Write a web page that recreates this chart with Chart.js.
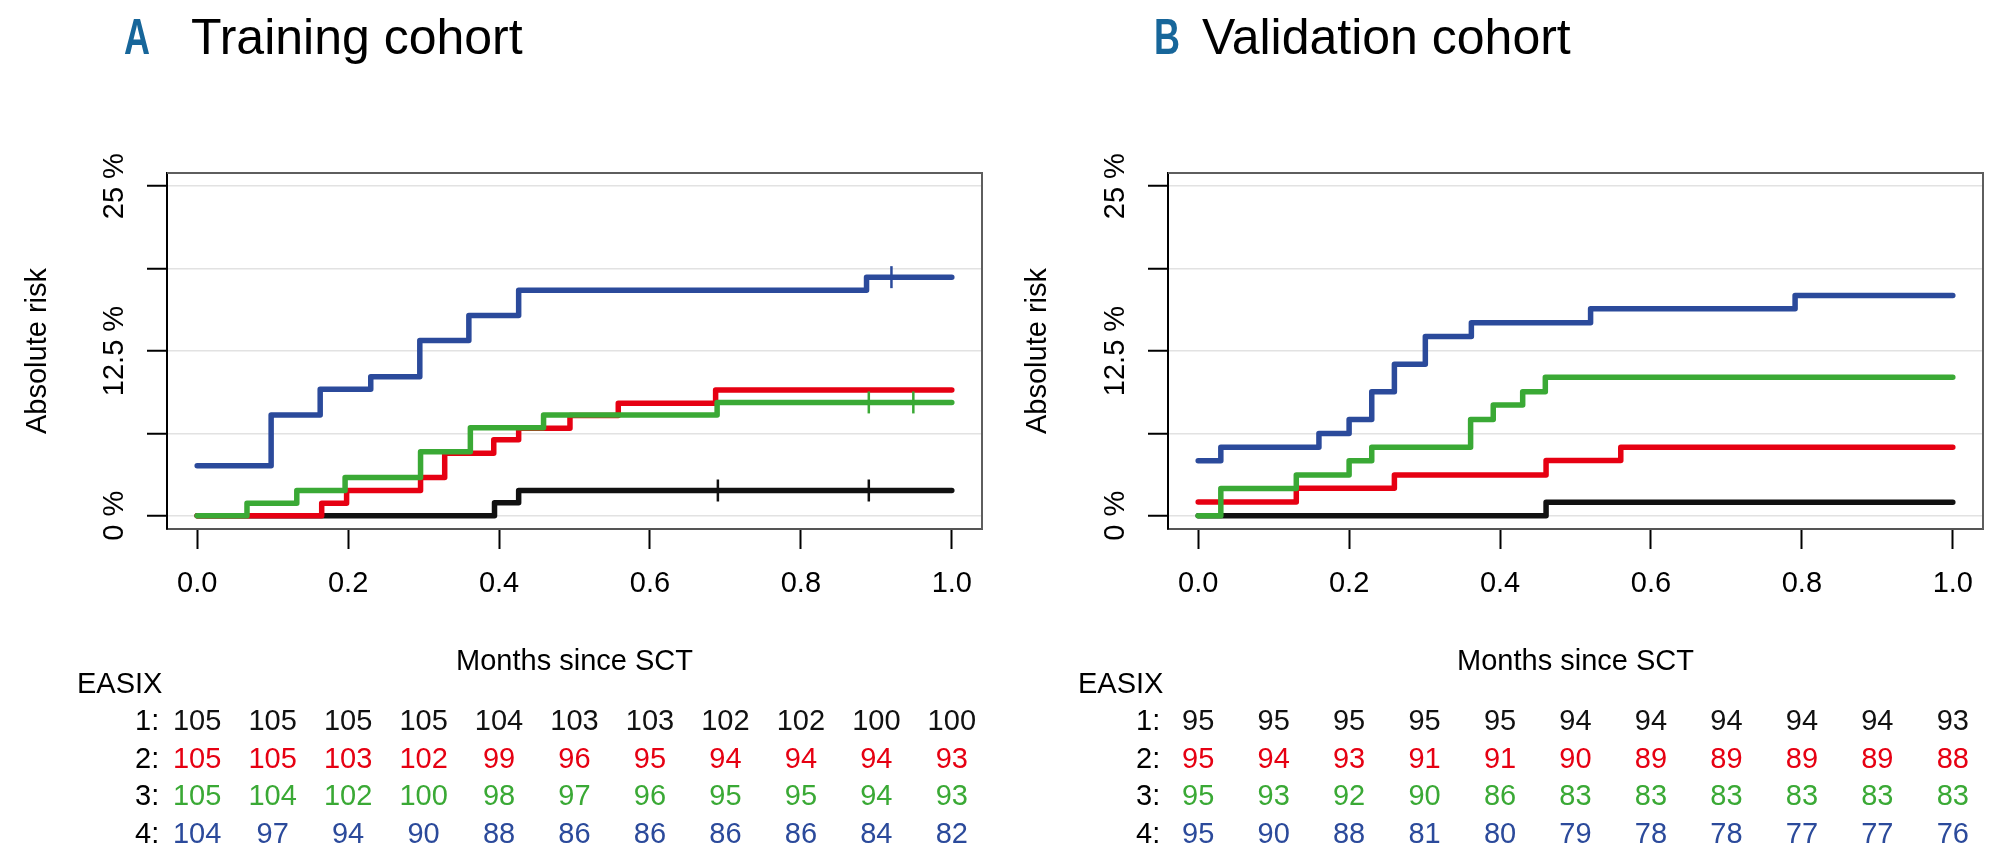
<!DOCTYPE html>
<html>
<head>
<meta charset="utf-8">
<script src="https://cdn.jsdelivr.net/npm/chart.js@4.4.1/dist/chart.umd.min.js"></script>
<style>
html,body{margin:0;padding:0;background:#fff;}
#wrap{position:relative;width:2000px;height:865px;overflow:hidden;background:#fff;}
#wrap canvas{position:absolute;top:0;}
</style>
</head>
<body>
<div id="wrap">
<canvas id="cA" width="1000" height="865" style="left:0px"></canvas>
<canvas id="cB" width="1000" height="865" style="left:1000px"></canvas>
</div>
<script>
// ---------------- data ----------------
const groupNames = ['1', '2', '3', '4'];
const groupColors = ['#111111', '#e60012', '#3aa935', '#2b4a9b'];

const xTicks = [0, 0.2, 0.4, 0.6, 0.8, 1.0];
const yTicks = [0, 6.25, 12.5, 18.75, 25];
const yLabelValues = [0, 12.5, 25];
const yTickLabels = ['0 %', '12.5 %', '25 %'];
const tableTimes = [0, 0.1, 0.2, 0.3, 0.4, 0.5, 0.6, 0.7, 0.8, 0.9, 1.0];

// Training cohort (panel A): step times (months) and cumulative risk (%)
const trainTime1 = [0, 0.394, 0.426, 1.0];
const trainRisk1 = [0, 1.0, 1.92, 1.92];
const trainTime2 = [0, 0.165, 0.198, 0.296, 0.328, 0.393, 0.426, 0.494, 0.558, 0.687, 1.0];
const trainRisk2 = [0, 0.96, 1.92, 2.9, 4.75, 5.76, 6.64, 7.6, 8.54, 9.55, 9.55];
const trainTime3 = [0, 0.066, 0.132, 0.196, 0.296, 0.362, 0.459, 0.689, 1.0];
const trainRisk3 = [0, 0.96, 1.92, 2.9, 4.85, 6.68, 7.65, 8.6, 8.6];
const trainTime4 = [0, 0.098, 0.163, 0.23, 0.295, 0.36, 0.426, 0.887, 1.0];
const trainRisk4 = [3.8, 7.65, 9.6, 10.55, 13.3, 15.2, 17.1, 18.1, 18.1];
const trainCensor1 = [0.69, 0.89];
const trainCensor2 = [];
const trainCensor3 = [0.89, 0.949];
const trainCensor4 = [0.92];

// Validation cohort (panel B)
const valTime1 = [0, 0.461, 1.0];
const valRisk1 = [0, 1.03, 1.03];
const valTime2 = [0, 0.13, 0.26, 0.461, 0.56, 1.0];
const valRisk2 = [1.05, 2.1, 3.1, 4.2, 5.2, 5.2];
const valTime3 = [0, 0.03, 0.13, 0.2, 0.23, 0.361, 0.391, 0.43, 0.46, 1.0];
const valRisk3 = [0, 2.07, 3.1, 4.17, 5.2, 7.3, 8.4, 9.4, 10.5, 10.5];
const valTime4 = [0, 0.03, 0.16, 0.2, 0.23, 0.26, 0.301, 0.362, 0.52, 0.791, 1.0];
const valRisk4 = [4.17, 5.2, 6.25, 7.3, 9.4, 11.5, 13.6, 14.65, 15.7, 16.7, 16.7];
const valCensor1 = [];
const valCensor2 = [];
const valCensor3 = [];
const valCensor4 = [];

// Numbers at risk
const trainAtRisk1 = [105, 105, 105, 105, 104, 103, 103, 102, 102, 100, 100];
const trainAtRisk2 = [105, 105, 103, 102, 99, 96, 95, 94, 94, 94, 93];
const trainAtRisk3 = [105, 104, 102, 100, 98, 97, 96, 95, 95, 94, 93];
const trainAtRisk4 = [104, 97, 94, 90, 88, 86, 86, 86, 86, 84, 82];
const valAtRisk1 = [95, 95, 95, 95, 95, 94, 94, 94, 94, 94, 93];
const valAtRisk2 = [95, 94, 93, 91, 91, 90, 89, 89, 89, 89, 88];
const valAtRisk3 = [95, 93, 92, 90, 86, 83, 83, 83, 83, 83, 83];
const valAtRisk4 = [95, 90, 88, 81, 80, 79, 78, 78, 77, 77, 76];

// ---------------- drawing ----------------
const FONT = "'Liberation Sans', Arial, Helvetica, sans-serif";

const panels = [
  {
    canvas: 'cA', letter: 'A', title: 'Training cohort', letterX: 124, titleX: 191,
    axisWidth: 167, padRight: 18,
    times: [trainTime1, trainTime2, trainTime3, trainTime4],
    risks: [trainRisk1, trainRisk2, trainRisk3, trainRisk4],
    censor: [trainCensor1, trainCensor2, trainCensor3, trainCensor4],
    atRisk: [trainAtRisk1, trainAtRisk2, trainAtRisk3, trainAtRisk4]
  },
  {
    canvas: 'cB', letter: 'B', title: 'Validation cohort', letterX: 154, titleX: 202,
    axisWidth: 168, padRight: 17,
    times: [valTime1, valTime2, valTime3, valTime4],
    risks: [valRisk1, valRisk2, valRisk3, valRisk4],
    censor: [valCensor1, valCensor2, valCensor3, valCensor4],
    atRisk: [valAtRisk1, valAtRisk2, valAtRisk3, valAtRisk4]
  }
];

function riskLevelAt(times, risks, t) {
  let v = risks[0];
  for (let i = 0; i < times.length; i++) { if (times[i] <= t) v = risks[i]; }
  return v;
}

function makePanelPlugin(panel) {
  return {
    id: 'panelText' + panel.letter,
    afterDraw(chart) {
      const ctx = chart.ctx;
      const {left, right, top, bottom} = chart.chartArea;
      const xs = chart.scales.x, ys = chart.scales.y;
      ctx.save();
      // remaining box edges (top and right)
      ctx.strokeStyle = '#5e5e5e';
      ctx.lineWidth = 2;
      ctx.beginPath();
      ctx.moveTo(left, top);
      ctx.lineTo(right, top);
      ctx.lineTo(right, bottom);
      ctx.stroke();

      // rotated y tick labels
      ctx.fillStyle = '#000';
      ctx.font = '29px ' + FONT;
      ctx.textAlign = 'center';
      ctx.textBaseline = 'alphabetic';
      yLabelValues.forEach((v, i) => {
        const y = ys.getPixelForValue(v);
        ctx.save();
        ctx.translate(left - 44, y);
        ctx.rotate(-Math.PI / 2);
        ctx.fillText(yTickLabels[i], 0, 0);
        ctx.restore();
      });

      // panel letter and title
      ctx.save();
      ctx.translate(panel.letterX, 54);
      ctx.scale(0.72, 1);
      ctx.font = 'bold 50px ' + FONT;
      ctx.fillStyle = '#17669a';
      ctx.textAlign = 'left';
      ctx.fillText(panel.letter, 0, 0);
      ctx.restore();
      ctx.font = '50px ' + FONT;
      ctx.fillStyle = '#000';
      ctx.textAlign = 'left';
      ctx.fillText(panel.title, panel.titleX, 54);

      // numbers at risk table
      ctx.font = '29px ' + FONT;
      ctx.textAlign = 'left';
      ctx.fillStyle = '#000';
      ctx.fillText('EASIX', left - 90, 693);
      const x0 = xs.getPixelForValue(0);
      panel.atRisk.forEach((row, r) => {
        const by = 730 + r * 37.5;
        ctx.textAlign = 'right';
        ctx.fillStyle = '#000';
        ctx.fillText(groupNames[r] + ':', x0 - 38, by);
        ctx.textAlign = 'center';
        ctx.fillStyle = groupColors[r];
        row.forEach((n, c) => {
          ctx.fillText(String(n), xs.getPixelForValue(tableTimes[c]), by);
        });
      });
      ctx.restore();
    }
  };
}

function makeChart(panel) {
  const datasets = [];
  for (let g = 0; g < 4; g++) {
    datasets.push({
      type: 'line',
      label: 'EASIX ' + groupNames[g],
      data: panel.times[g].map((t, i) => ({x: t, y: panel.risks[g][i]})),
      borderColor: groupColors[g],
      backgroundColor: groupColors[g],
      borderWidth: 5.5,
      stepped: true,
      pointRadius: 0,
      pointHoverRadius: 0,
      fill: false,
      borderCapStyle: 'round',
      borderJoinStyle: 'round',
      order: 10 - g * 2
    });
    if (panel.censor[g].length) {
      datasets.push({
        type: 'scatter',
        label: 'censored ' + groupNames[g],
        data: panel.censor[g].map(t => ({x: t, y: riskLevelAt(panel.times[g], panel.risks[g], t)})),
        pointStyle: 'line',
        pointRotation: 90,
        pointRadius: 11,
        pointHoverRadius: 11,
        pointBorderWidth: 2.5,
        pointBorderColor: groupColors[g],
        borderColor: groupColors[g],
        backgroundColor: groupColors[g],
        showLine: false,
        order: 9 - g * 2
      });
    }
  }

  return new Chart(document.getElementById(panel.canvas), {
    type: 'line',
    data: {datasets},
    options: {
      responsive: false,
      animation: false,
      events: [],
      devicePixelRatio: 1,
      layout: {padding: {left: 0, right: panel.padRight, top: 173, bottom: 0}},
      plugins: {legend: {display: false}, tooltip: {enabled: false}, title: {display: false}},
      scales: {
        x: {
          type: 'linear',
          position: 'bottom',
          min: -0.04,
          max: 1.04,
          afterBuildTicks: s => { s.ticks = xTicks.map(v => ({value: v})); },
          afterFit: s => { s.height = 336; },
          ticks: {
            font: {family: FONT, size: 29},
            color: '#000',
            padding: 18,
            maxRotation: 0,
            autoSkip: false,
            callback: v => Number(v).toFixed(1)
          },
          grid: {display: true, drawOnChartArea: false, drawTicks: true, tickLength: 20, tickWidth: 2, tickColor: '#000'},
          border: {display: true, color: '#555', width: 2},
          title: {display: true, text: 'Months since SCT', font: {family: FONT, size: 29}, color: '#000', padding: {top: 0, bottom: 186}}
        },
        y: {
          type: 'linear',
          position: 'left',
          min: -1,
          max: 26,
          afterBuildTicks: s => { s.ticks = yTicks.map(v => ({value: v})); },
          afterFit: s => { s.width = panel.axisWidth; },
          ticks: {display: false},
          grid: {color: '#e2e2e2', lineWidth: 1.5, drawTicks: true, tickLength: 20, tickWidth: 2, tickColor: '#000'},
          border: {display: true, color: '#000', width: 2},
          title: {display: true, text: 'Absolute risk', font: {family: FONT, size: 29}, color: '#000', padding: {top: 21, bottom: 0}}
        }
      }
    },
    plugins: [makePanelPlugin(panel)]
  });
}

panels.forEach(makeChart);
</script>
</body>
</html>
